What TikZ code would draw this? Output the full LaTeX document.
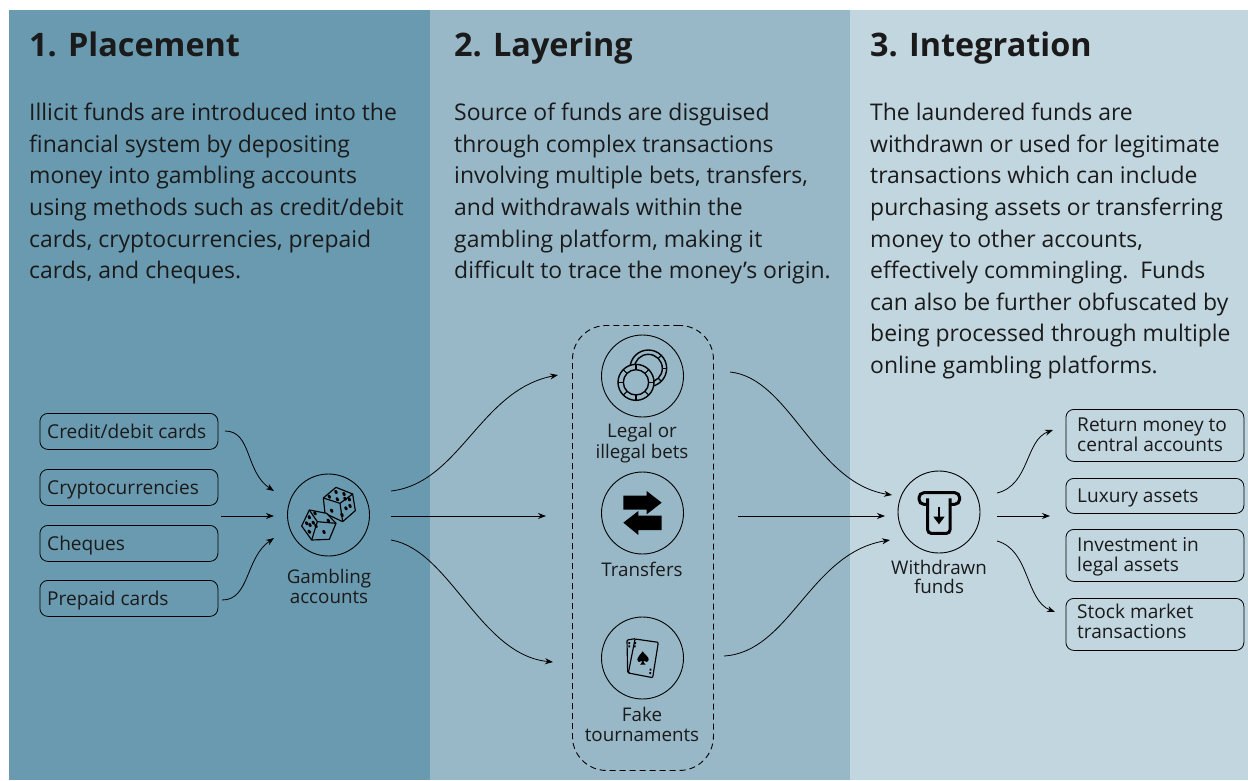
\documentclass[tikz,border=0pt]{standalone}
\usepackage{fontspec}
\setmainfont{Open Sans}
\usetikzlibrary{arrows.meta}
\definecolor{panelA}{HTML}{6A9AB0}
\definecolor{panelB}{HTML}{98B8C8}
\definecolor{panelC}{HTML}{C2D6E0}
\definecolor{ink}{HTML}{1A1A1A}
\tikzset{
  panelbox/.style={draw=none,fill=#1,minimum height=770pt,inner sep=0pt,anchor=north west},
  titletext/.style={anchor=base west,inner sep=0pt,text=ink,font=\fontsize{32.4}{33}\selectfont\bfseries},
  bodytext/.style={anchor=north west,inner sep=0pt,align=left,text=ink,font=\fontsize{22.95}{31.6}\selectfont},
  itembox/.style={draw=black,line width=0.8pt,rounded corners=8pt,minimum width=178pt,inner sep=0pt,anchor=north west},
  itemtext/.style={anchor=base west,inner sep=0pt,text=ink,font=\fontsize{19.1}{20}\selectfont},
  iconring/.style={circle,draw=black,line width=0.9pt,minimum size=82pt,inner sep=0pt},
  iconlabel/.style={anchor=north,inner sep=0pt,align=center,text=ink,font=\fontsize{18.8}{20}\selectfont},
  flow/.style={-{Stealth[length=8pt,width=6pt]},line width=0.8pt,black},
  iconpx/.style={x=0.3333pt,y=-0.3333pt},
  ico/.style={line width=1.15pt,line join=round,black},
}
\begin{document}
\begin{tikzpicture}[x=1pt,y=-1pt]
\useasboundingbox (0,0) rectangle (1248,780);
\fill[white] (0,0) rectangle (1248,780);
\node[panelbox=panelA,minimum width=421pt] (pa) at (9,10) {};
\node[panelbox=panelB,minimum width=420pt] (pb) at (430,10) {};
\node[panelbox=panelC,minimum width=398pt] (pc) at (850,10) {};

\node[titletext] (ta) at (29,56) {1. Placement};
\node[titletext] (tb) at (454,56) {2. Layering};
\node[titletext] (tc) at (870,56) {3. Integration};

\node[bodytext] (ba) at (29,103) {Illicit funds are introduced into the\\financial system by depositing\\money into gambling accounts\\using methods such as credit/debit\\cards, cryptocurrencies, prepaid\\cards, and cheques.};
\node[bodytext] (bb) at (454,103) {Source of funds are disguised\\through complex transactions\\involving multiple bets, transfers,\\and withdrawals within the\\gambling platform, making it\\difficult to trace the money’s origin.};
\node[bodytext] (bc) at (870,103) {The laundered funds are\\withdrawn or used for legitimate\\transactions which can include\\purchasing assets or transferring\\money to other accounts,\\effectively commingling.\ \ Funds\\can also be further obfuscated by\\being processed through multiple\\online gambling platforms.};

% left boxes
\node[itembox,minimum height=36pt] (credit) at (39.5,413) {};
\node[itembox,minimum height=36pt] (crypto) at (39.5,469) {};
\node[itembox,minimum height=36pt] (cheques) at (39.5,525) {};
\node[itembox,minimum height=36pt] (prepaid) at (39.5,580) {};
\node[itemtext] (tcredit) at (47,438) {Credit/debit cards};
\node[itemtext] (tcrypto) at (47,494) {Cryptocurrencies};
\node[itemtext] (tcheques) at (47,550) {Cheques};
\node[itemtext] (tprepaid) at (47,605) {Prepaid cards};

% right boxes
\node[itembox,minimum height=52pt] (ret) at (1065.5,409) {};
\node[itembox,minimum height=35pt] (lux) at (1065.5,478) {};
\node[itembox,minimum height=52pt] (inv) at (1065.5,529) {};
\node[itembox,minimum height=52pt] (stock) at (1065.5,598) {};
\node[itemtext] (tret1) at (1077,431) {Return money to};
\node[itemtext] (tret2) at (1077,451) {central accounts};
\node[itemtext] (tlux) at (1077,502) {Luxury assets};
\node[itemtext] (tinv1) at (1077,551) {Investment in};
\node[itemtext] (tinv2) at (1077,571) {legal assets};
\node[itemtext] (tst1) at (1077,618) {Stock market};
\node[itemtext] (tst2) at (1077,638) {transactions};

% dashed group
\node[draw=black,line width=0.9pt,dashed,dash pattern=on 6pt off 4pt,rounded corners=34pt,minimum width=141pt,minimum height=445pt,inner sep=0pt,anchor=north west] (grp) at (572,325) {};

% rings
\node[iconring] (dice) at (328.5,515) {};
\node[iconring] (chips) at (642.5,376) {};
\node[iconring] (swap) at (642.5,513) {};
\node[iconring] (cards) at (642.5,658) {};
\node[iconring] (atm) at (939,512) {};

\node[iconlabel] (ldice) at (329,569) {Gambling\\accounts};
\node[iconlabel] (lchips) at (642,423) {Legal or\\[1pt]illegal bets};
\node[iconlabel] (lswap) at (642,562) {Transfers};
\node[iconlabel] (lcards) at (642,707) {Fake\\tournaments};
\node[iconlabel] (latm) at (939,560) {Withdrawn\\[-1pt]funds};

% dice icon
\begin{scope}[shift={(280,470)},iconpx]
  \draw[ico] (168,52)--(218,72)--(226,122)--(188,155)--(135,130)--(130,84)--cycle;
  \draw[ico] (130,84)--(180,100)--(218,72) (180,100)--(188,155);
  \draw[ico,fill=panelA] (88,120)--(140,130)--(168,160)--(148,208)--(95,210)--(65,168)--cycle;
  \draw[ico] (88,120)--(112,155)--(168,160) (112,155)--(95,210);
  \foreach \p in {(168,66),(192,72),(148,80),(172,88),(195,86),
    (155,122),(208,88),(210,108),(198,115),(186,135),(105,130),(145,152),(88,142),(100,158),(90,165),(80,160),(88,185),(108,168),(132,186)}
    \fill[black,rotate around={30:\p}] \p ellipse (4.5 and 6.5);
\end{scope}

% chips icon
\begin{scope}[shift={(590,325)},iconpx]
  \draw[ico,line width=1.4pt] (175,130) circle (55);
  \draw[ico,line width=1.4pt] (175,130) circle (42);
  \foreach \a in {90,135,45,0,-45}
    \draw[ico] (175,130)++(\a:42) -- ++(\a:13);
  \draw[ico,line width=1.4pt,fill=panelB] (138,172) circle (54);
  \draw[ico,line width=1.4pt] (138,172) circle (38);
  \foreach \a in {0,45,...,315}
    \draw[ico] (138,172)++(\a:38) -- ++(\a:16);
\end{scope}

% transfer icon
\begin{scope}[shift={(590,465)},iconpx]
  \fill[black] (100,92)--(170,92)--(170,78)--(215,113)--(170,148)--(170,134)--(100,134)--cycle;
  \fill[black] (215,152)--(145,152)--(145,138)--(100,173)--(145,210)--(145,195)--(215,195)--cycle;
\end{scope}

% cards icon
\begin{scope}[shift={(590,610)},iconpx]
  \draw[ico,rounded corners=1pt] (135,86)--(111,90)--(113,188)--(120,189);
  \draw[ico,rounded corners=1pt] (135,87)--(205,97)--(188,203)--(115,189)--cycle;
  \fill[black] (158,124) .. controls (150,136) and (142,140) .. (142,148) .. controls (142,158) and (152,158) .. (156,152) .. controls (156,158) and (154,161) .. (150,164) -- (167,164) .. controls (163,161) and (161,158) .. (160,152) .. controls (165,158) and (176,157) .. (176,148) .. controls (176,140) and (166,136) .. (158,124) -- cycle;
  \fill[black] (115,96) rectangle (120,102) (115,106) rectangle (120,112);
  \fill[black] (133,96) rectangle (138,102) (132,106) rectangle (137,112);
  \fill[black] (179,176) rectangle (184,182) (178,186) rectangle (183,192);
\end{scope}

% atm icon
\begin{scope}[shift={(885,465)},iconpx]
  \draw[black,line width=3pt,line cap=round,rounded corners=5pt] (128,118)--(102,118)--(102,83)--(224,83)--(224,118)--(196,118);
  \draw[black,line width=3pt,rounded corners=3.5pt] (128,100)--(128,205)--(195,205)--(195,100);
  \draw[black,line width=2.6pt] (162,125)--(162,165);
  \fill[black] (145,155)--(179,155)--(162,178)--cycle;
\end{scope}

% connector end points
\coordinate (cr0) at (225,431);
\coordinate (cy0) at (221,516);
\coordinate (pp0) at (222,600);
\coordinate (di1) at (274,491);
\coordinate (di2) at (274,516);
\coordinate (di3) at (274,538);
\coordinate (do1) at (391,491);
\coordinate (do2) at (391,516);
\coordinate (do3) at (391,540);
\coordinate (gi1) at (558,375);
\coordinate (gi2) at (546,516);
\coordinate (gi3) at (553,662);
\coordinate (go1) at (730,372);
\coordinate (go2) at (738,516);
\coordinate (go3) at (724,656);
\coordinate (ai1) at (892,495);
\coordinate (ai2) at (885,516);
\coordinate (ai3) at (890,540);
\coordinate (ao1) at (997,493);
\coordinate (ao2) at (997,516);
\coordinate (ao3) at (997,541);
\coordinate (ri1) at (1053,430);
\coordinate (ri2) at (1050,516);
\coordinate (ri3) at (1055,612);

\draw[flow] (cr0) .. controls (252,431) and (245,472) .. (di1);
\draw[flow] (cy0) -- (di2);
\draw[flow] (pp0) .. controls (250,600) and (245,558) .. (di3);
\draw[flow] (do1) .. controls (460,483) and (480,390) .. (gi1);
\draw[flow] (do2) -- (gi2);
\draw[flow] (do3) .. controls (450,550) and (480,655) .. (gi3);
\draw[flow] (go1) .. controls (790,378) and (815,483) .. (ai1);
\draw[flow] (go2) -- (ai2);
\draw[flow] (go3) .. controls (790,652) and (810,553) .. (ai3);
\draw[flow] (ao1) .. controls (1030,485) and (1025,440) .. (ri1);
\draw[flow] (ao2) -- (ri2);
\draw[flow] (ao3) .. controls (1030,550) and (1025,600) .. (ri3);
\end{tikzpicture}
\end{document}
